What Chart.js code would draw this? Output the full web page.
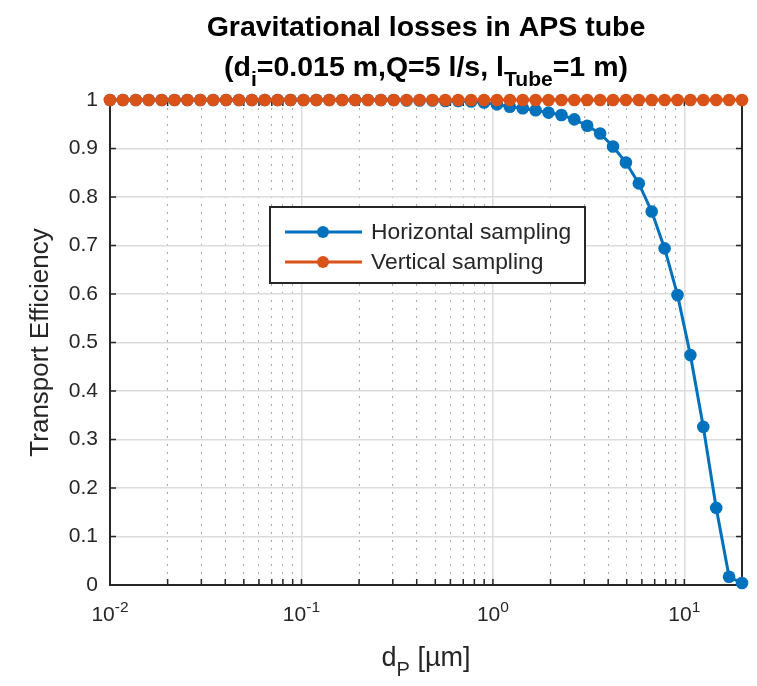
<!DOCTYPE html>
<html>
<head>
<meta charset="utf-8">
<script src="https://cdn.jsdelivr.net/npm/chart.js@4.4.1/dist/chart.umd.min.js"></script>
<style>
  html, body { margin: 0; padding: 0; background: #ffffff; }
</style>
</head>
<body>
<canvas id="grafico" width="757" height="686"></canvas>
<script>
// particle diameters [um], 50 log-spaced points from 0.01 to 20
const dp = [
  0.0100, 0.01168, 0.01364, 0.01593, 0.01861, 0.02172, 0.02537, 0.02962, 0.03459, 0.04040,
  0.04717, 0.05508, 0.06432, 0.07511, 0.08771, 0.10243, 0.11961, 0.13967, 0.16310, 0.19055,
  0.22248, 0.25980, 0.30339, 0.35431, 0.41375, 0.48315, 0.56418, 0.65892, 0.76947, 0.89874,
  1.0497, 1.2257, 1.4313, 1.6716, 1.9519, 2.2796, 2.6620, 3.1087, 3.6306, 4.2398,
  4.9511, 5.7818, 6.7521, 7.8848, 9.2078, 10.753, 12.557, 14.664, 17.124, 20.000
];

const horizontalEff = [
  1, 1, 1, 1, 1, 1, 1, 1, 1, 1,
  1, 1, 1, 1, 1, 1, 1, 1, 1, 1,
  1, 1, 1, 0.999, 0.999, 0.999, 0.998, 0.998, 0.997, 0.995,
  0.991, 0.986, 0.983, 0.979, 0.974, 0.969, 0.960, 0.947, 0.931, 0.904,
  0.871, 0.828, 0.770, 0.694, 0.598, 0.474, 0.326, 0.159, 0.017, 0.004
];

const verticalEff = [
  1, 1, 1, 1, 1, 1, 1, 1, 1, 1,
  1, 1, 1, 1, 1, 1, 1, 1, 1, 1,
  1, 1, 1, 1, 1, 1, 1, 1, 1, 1,
  1, 1, 1, 1, 1, 1, 1, 1, 1, 1,
  1, 1, 1, 1, 1, 1, 1, 1, 1, 1
];

const seriesNames = ["Horizontal sampling", "Vertical sampling"];
const seriesColors = ["#0072BD", "#D95319"];

const yTicks = [0, 0.1, 0.2, 0.3, 0.4, 0.5, 0.6, 0.7, 0.8, 0.9, 1];
const xDecades = [0.01, 0.1, 1, 10];
const xDecadeExp = ["-2", "-1", "0", "1"];
const xMultipliers = [1, 2, 3, 4, 5, 6, 7, 8, 9];
const xMin = 0.01;
const xMax = 20;

const FONT = "'Liberation Sans', Arial, Helvetica, sans-serif";
const INK = "#262626";

function isDecade(v) {
    const l = Math.log10(v);
    return Math.abs(l - Math.round(l)) < 1e-6;
}

function xGridValues() {
    const out = [];
    xDecades.forEach((d) => {
        xMultipliers.forEach((m) => {
            const v = +(d * m).toPrecision(6);
            if (v >= xMin && v <= xMax) out.push(v);
        });
    });
    out.push(xMax);
    return out;
}

// draw a string made of normal / subscript / superscript pieces, centered at cx
function drawRich(ctx, parts, cx, baseline, size, bold) {
    const w = bold ? "bold " : "";
    const small = size * 0.74;
    let total = 0;
    parts.forEach((p) => {
        const s = p.sub || p.sup ? small : size;
        ctx.font = w + s + "px " + FONT;
        p.w = ctx.measureText(p.t).width;
        total += p.w;
    });
    let x = cx - total / 2;
    ctx.textAlign = "left";
    ctx.textBaseline = "alphabetic";
    parts.forEach((p) => {
        const s = p.sub || p.sup ? small : size;
        ctx.font = w + s + "px " + FONT;
        let y = baseline;
        if (p.sub) y += size * 0.36;
        if (p.sup) y -= size * 0.42;
        ctx.fillText(p.t, x, y);
        x += p.w;
    });
}

const matlabAxes = {
    id: "matlabAxes",
    beforeDatasetsDraw(chart) {
        const ctx = chart.ctx;
        const a = chart.chartArea;
        const xs = chart.scales.x;
        const ys = chart.scales.y;
        ctx.save();
        ctx.strokeStyle = INK;
        ctx.lineWidth = 1.5;
        // inward ticks
        ctx.beginPath();
        xs.ticks.forEach((t) => {
            const px = xs.getPixelForValue(t.value);
            ctx.moveTo(px, a.bottom);
            ctx.lineTo(px, a.bottom - 6);
            ctx.moveTo(px, a.top);
            ctx.lineTo(px, a.top + 6);
        });
        ys.ticks.forEach((t) => {
            const py = ys.getPixelForValue(t.value);
            ctx.moveTo(a.left, py);
            ctx.lineTo(a.left + 6, py);
            ctx.moveTo(a.right, py);
            ctx.lineTo(a.right - 6, py);
        });
        ctx.stroke();
        // box
        ctx.lineWidth = 2;
        ctx.strokeRect(a.left, a.top, a.right - a.left, a.bottom - a.top);
        ctx.restore();
    },
    afterDraw(chart) {
        const ctx = chart.ctx;
        const a = chart.chartArea;
        const xs = chart.scales.x;
        const cx = (a.left + a.right) / 2;
        ctx.save();
        ctx.fillStyle = "#000000";

        // title
        drawRich(ctx, [{ t: "Gravitational losses in APS tube" }], cx, 36, 28.5, true);
        drawRich(ctx, [
            { t: "(d" }, { t: "i", sub: true },
            { t: "=0.015 m,Q=5 l/s, l" }, { t: "Tube", sub: true },
            { t: "=1 m)" }
        ], cx, 76, 28.5, true);

        // x tick labels with exponents
        ctx.fillStyle = INK;
        xDecades.forEach((d, i) => {
            const px = xs.getPixelForValue(d);
            drawRich(ctx, [{ t: "10" }, { t: xDecadeExp[i], sup: true }], px, 621, 21, false);
        });

        // x axis label
        drawRich(ctx, [{ t: "d" }, { t: "P", sub: true }, { t: " [\u00b5m]" }], cx, 666, 27, false);

        // legend
        const lx = 270, ly = 207, lw = 315, lh = 76;
        ctx.fillStyle = "#ffffff";
        ctx.fillRect(lx, ly, lw, lh);
        ctx.strokeStyle = INK;
        ctx.lineWidth = 2;
        ctx.strokeRect(lx, ly, lw, lh);
        ctx.font = "22.8px " + FONT;
        ctx.textAlign = "left";
        ctx.textBaseline = "middle";
        chart.data.datasets.forEach((ds, i) => {
            const rowY = ly + 25 + i * 30;
            ctx.strokeStyle = ds.borderColor;
            ctx.lineWidth = 3;
            ctx.beginPath();
            ctx.moveTo(lx + 15, rowY);
            ctx.lineTo(lx + 92, rowY);
            ctx.stroke();
            ctx.fillStyle = ds.borderColor;
            ctx.beginPath();
            ctx.arc(lx + 53, rowY, 6, 0, Math.PI * 2);
            ctx.fill();
            ctx.fillStyle = INK;
            ctx.fillText(ds.label, lx + 101, rowY + 1);
        });
        ctx.restore();
    }
};

function pairs(ys) {
    return dp.map((x, i) => ({ x: x, y: ys[i] }));
}

const ctx = document.getElementById("grafico").getContext("2d");

new Chart(ctx, {
    type: "line",
    data: {
        datasets: [
            {
                label: seriesNames[0],
                data: pairs(horizontalEff),
                borderColor: seriesColors[0],
                backgroundColor: seriesColors[0],
                borderWidth: 3,
                pointRadius: 6.3,
                pointBorderWidth: 0,
                pointHoverRadius: 6.3,
                tension: 0,
                clip: false,
                order: 2
            },
            {
                label: seriesNames[1],
                data: pairs(verticalEff),
                borderColor: seriesColors[1],
                backgroundColor: seriesColors[1],
                borderWidth: 3,
                pointRadius: 6.3,
                pointBorderWidth: 0,
                pointHoverRadius: 6.3,
                tension: 0,
                clip: false,
                order: 1
            }
        ]
    },
    options: {
        responsive: false,
        animation: false,
        devicePixelRatio: 1,
        parsing: false,
        layout: {
            padding: { left: 0, right: 15, top: 100, bottom: 0 }
        },
        plugins: {
            legend: { display: false },
            title: { display: false },
            tooltip: { enabled: false }
        },
        scales: {
            x: {
                type: "logarithmic",
                min: xMin,
                max: xMax,
                afterBuildTicks: (s) => {
                    s.ticks = xGridValues().map((v) => ({ value: v }));
                },
                afterFit: (s) => {
                    s.height = 101;
                },
                ticks: { display: false },
                grid: {
                    drawTicks: false,
                    color: (c) => (c.tick && isDecade(c.tick.value) ? "#dcdcdc" : "rgba(38,38,38,0.4)"),
                    lineWidth: (c) => (c.tick && isDecade(c.tick.value) ? 1.5 : 1)
                },
                border: {
                    display: false,
                    dash: (c) => (c.tick && isDecade(c.tick.value) ? [] : [2, 6])
                }
            },
            y: {
                min: 0,
                max: 1,
                afterBuildTicks: (s) => {
                    s.ticks = yTicks.map((v) => ({ value: v }));
                },
                afterFit: (s) => {
                    s.width = 110;
                },
                ticks: {
                    color: INK,
                    padding: 12,
                    font: { family: FONT, size: 21 },
                    callback: (v) => String(Math.round(v * 10) / 10)
                },
                grid: {
                    drawTicks: false,
                    color: "#dcdcdc",
                    lineWidth: 1.5
                },
                border: { display: false },
                title: {
                    display: true,
                    text: "Transport Efficiency",
                    color: INK,
                    font: { family: FONT, size: 26 },
                    padding: { top: 25, bottom: 0 }
                }
            }
        }
    },
    plugins: [matlabAxes]
});
</script>
</body>
</html>
